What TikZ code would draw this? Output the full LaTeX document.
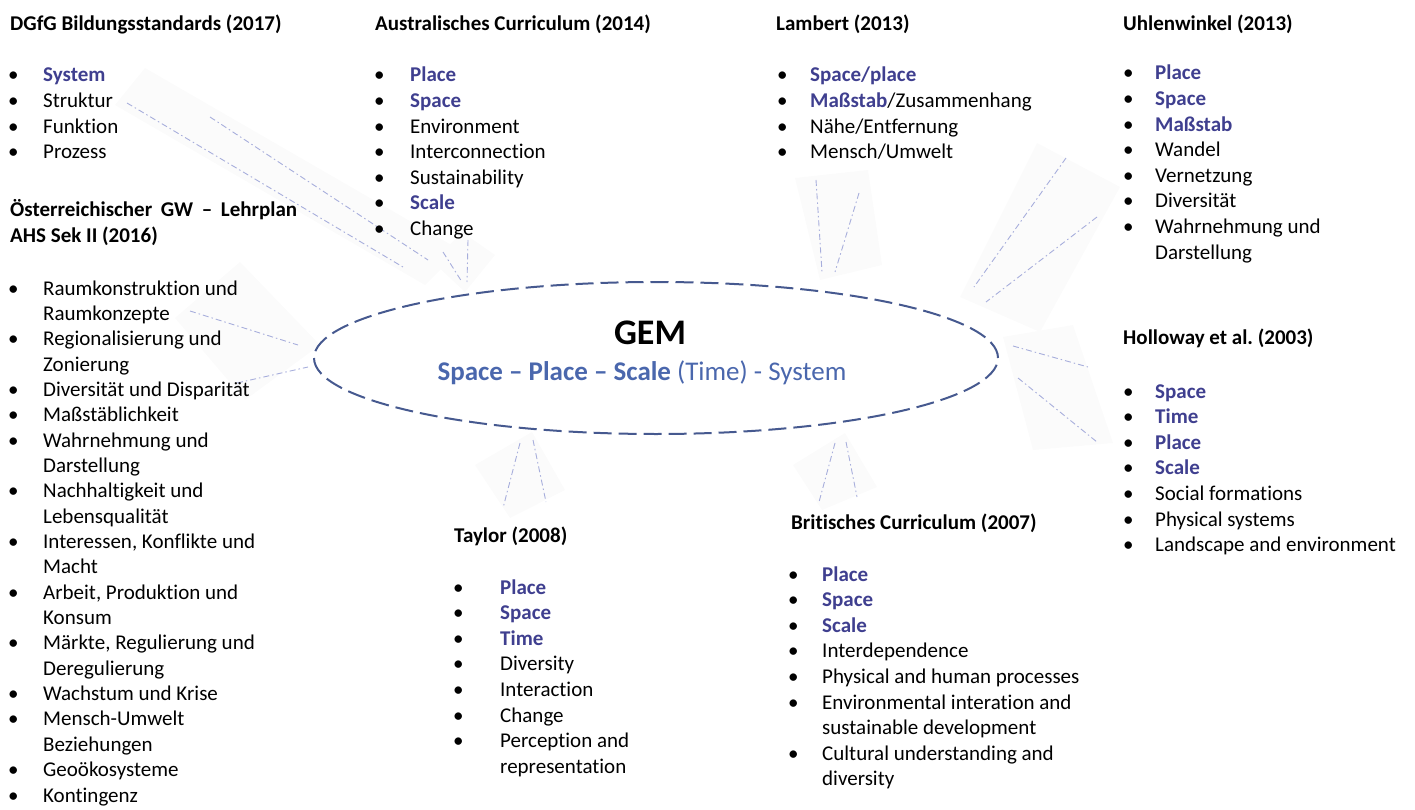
\documentclass[tikz,border=0pt]{standalone}
\usepackage{fontspec}
\setmainfont{Carlito}[Ligatures=NoCommon]
\usetikzlibrary{shapes.geometric}
\frenchspacing
\definecolor{gemblue}{HTML}{3F3F8F}
\definecolor{subblue}{HTML}{4A67AD}
\definecolor{rimblue}{HTML}{46598F}
\definecolor{rayblue}{HTML}{A7AEDC}
\newcommand{\kw}[1]{\textbf{\color{gemblue}#1}}
\tikzset{
  head/.style={anchor=base west,inner sep=0pt,font=\fontsize{21}{25.6}\selectfont\bfseries},
  itemlist/.style={anchor=base west,inner sep=0pt,font=\fontsize{21}{25.6}\selectfont},
  beam/.style={fill=black!1.5,draw=none},
  ray/.style={rayblue,line width=.9pt,dash pattern=on 6pt off 3pt on 1.5pt off 3pt},
}
\begin{document}
\begin{tikzpicture}[x=1pt,y=-1pt]
  \useasboundingbox (0,0) rectangle (1415,810);
  % faint beams behind the rays
  \foreach \ax/\ay/\bx/\by/\cx/\cy/\dx/\dy in {115/105/145/68/460/250/425/285,
      433/262/462/232/495/255/465/292, 795/178/868/170/882/265/820/280,
      1037/143/1120/187/1040/332/960/297, 1003/337/1073/325/1113/443/1033/450,
      175/318/240/262/320/345/245/400, 475/465/532/432/565/490/510/518,
      793/465/845/433/877/487/822/510}
    \fill[beam] (\ax,\ay) -- (\bx,\by) -- (\cx,\cy) -- (\dx,\dy) -- cycle;
  % rays towards the core
  \foreach \nm/\ax/\ay/\bx/\by in {dgA/127/103/403/267, dgB/210/117/428/260,
      auA/443/252/462/282, auB/468/240/467/282,
      laA/816/180/822/272, laB/859/193/835/272,
      uhA/1066/158/974/287, uhB/1097/217/986/302,
      hoA/1013/346/1088/367, hoB/1018/378/1097/442,
      oeA/190/311/298/345, oeB/237/383/308/367,
      taA/520/443/503/508, taB/533/440/546/502,
      brA/835/443/819/502, brB/846/442/857/497} {
    \coordinate (\nm-s) at (\ax,\ay);
    \coordinate (\nm-e) at (\bx,\by);
    \draw[ray] (\nm-s) -- (\nm-e);
  }
  % core
  \node[ellipse,draw=rimblue,line width=2pt,dash pattern=on 18pt off 7pt,
    minimum width=684pt,minimum height=152pt,inner sep=0pt] (core) at (656,358) {};
  \node[anchor=base,inner sep=0pt,font=\fontsize{36}{40}\selectfont\bfseries] (gem) at (650,344) {GEM};
  \node[anchor=base,inner sep=0pt,text=subblue,font=\fontsize{27}{30}\selectfont] (gemsub) at (642,380)
    {\textbf{Space – Place – Scale} (Time) - System};
  % DGfG
  \node[head] (dgfg) at (10,31) {DGfG Bildungsstandards (2017)};
  \node[itemlist] (dgfg-list) at (8,82) {\begin{tabular}[t]{@{}p{35pt}@{}l@{}}
    • & \kw{System}\\ • & Struktur\\ • & Funktion\\ • & Prozess\end{tabular}};
  % Oesterreich
  \node[head] (oe) at (10,217) {\makebox[287pt][s]{Österreichischer GW – Lehrplan}};
  \node[head] (oe2) at (10,243) {AHS Sek II (2016)};
  \node[itemlist,font=\fontsize{21}{25.35}\selectfont] (oe-list) at (8,295) {\begin{tabular}[t]{@{}p{35pt}@{}l@{}}
    • & Raumkonstruktion und\\ & Raumkonzepte\\ • & Regionalisierung und\\ & Zonierung\\
    • & Diversität und Disparität\\ • & Maßstäblichkeit\\ • & Wahrnehmung und\\ & Darstellung\\
    • & Nachhaltigkeit und\\ & Lebensqualität\\ • & Interessen, Konflikte und\\ & Macht\\
    • & Arbeit, Produktion und\\ & Konsum\\ • & Märkte, Regulierung und\\ & Deregulierung\\
    • & Wachstum und Krise\\ • & Mensch-Umwelt\\ & Beziehungen\\ • & Geoökosysteme\\
    • & Kontingenz\end{tabular}};
  % Australien
  \node[head] (au) at (375,31) {Australisches Curriculum (2014)};
  \node[itemlist] (au-list) at (374,82) {\begin{tabular}[t]{@{}p{36pt}@{}l@{}}
    • & \kw{Place}\\ • & \kw{Space}\\ • & Environment\\ • & Interconnection\\
    • & Sustainability\\ • & \kw{Scale}\\ • & Change\end{tabular}};
  % Lambert
  \node[head] (la) at (776,31) {Lambert (2013)};
  \node[itemlist] (la-list) at (777,82) {\begin{tabular}[t]{@{}p{33pt}@{}l@{}}
    • & \kw{Space/place}\\ • & \kw{Maßstab}/Zusammenhang\\ • & Nähe/Entfernung\\
    • & Mensch/Umwelt\end{tabular}};
  % Uhlenwinkel
  \node[head] (uh) at (1123,31) {Uhlenwinkel (2013)};
  \node[itemlist] (uh-list) at (1123,80) {\begin{tabular}[t]{@{}p{32pt}@{}l@{}}
    • & \kw{Place}\\ • & \kw{Space}\\ • & \kw{Maßstab}\\ • & Wandel\\ • & Vernetzung\\
    • & Diversität\\ • & Wahrnehmung und\\ & Darstellung\end{tabular}};
  % Holloway
  \node[head] (ho) at (1123,344) {Holloway et al. (2003)};
  \node[itemlist] (ho-list) at (1123,398) {\begin{tabular}[t]{@{}p{32pt}@{}l@{}}
    • & \kw{Space}\\ • & \kw{Time}\\ • & \kw{Place}\\ • & \kw{Scale}\\
    • & Social formations\\ • & Physical systems\\ • & Landscape and environment\end{tabular}};
  % Taylor
  \node[head] (ta) at (454,542) {Taylor (2008)};
  \node[itemlist] (ta-list) at (453,594) {\begin{tabular}[t]{@{}p{47pt}@{}l@{}}
    • & \kw{Place}\\ • & \kw{Space}\\ • & \kw{Time}\\ • & Diversity\\ • & Interaction\\
    • & Change\\ • & Perception and\\ & representation\end{tabular}};
  % Britisch
  \node[head] (br) at (791,529) {Britisches Curriculum (2007)};
  \node[itemlist] (br-list) at (788,581) {\begin{tabular}[t]{@{}p{34pt}@{}l@{}}
    • & \kw{Place}\\ • & \kw{Space}\\ • & \kw{Scale}\\ • & Interdependence\\
    • & Physical and human processes\\ • & Environmental interation and\\
    & sustainable development\\ • & Cultural understanding and\\ & diversity\end{tabular}};
\end{tikzpicture}
\end{document}
